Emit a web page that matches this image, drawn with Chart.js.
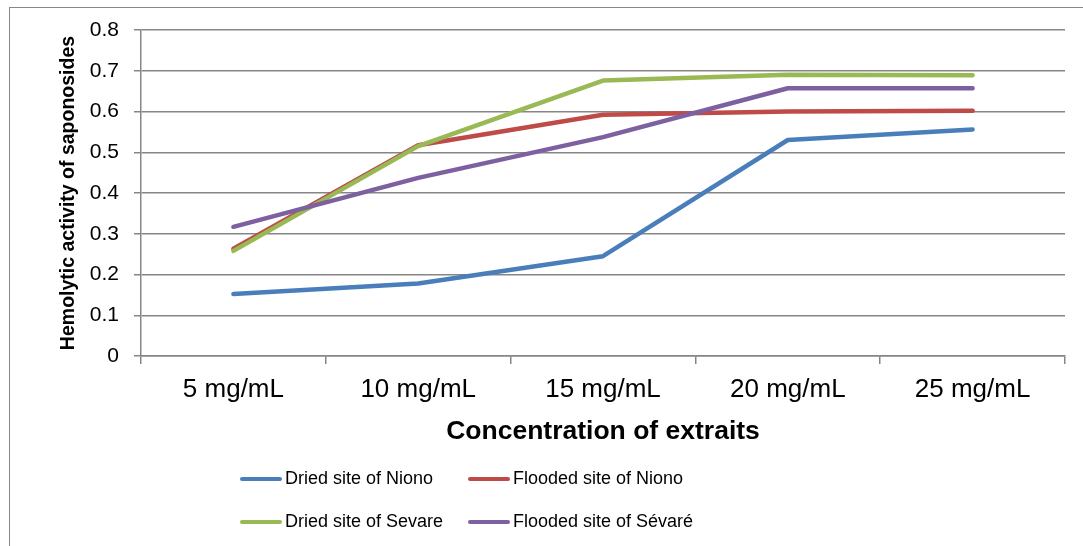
<!DOCTYPE html>
<html>
<head>
<meta charset="utf-8">
<script src="https://cdn.jsdelivr.net/npm/chart.js@4"></script>
<style>
  html, body { margin: 0; padding: 0; background: #fff; overflow: hidden; }
  #wrap { position: relative; width: 1083px; height: 546px; }
  #frame { position: absolute; left: 9px; top: 7px; width: 2000px; height: 2000px;
           border-left: 1px solid #888; border-top: 1px solid #888; }
  #c { position: absolute; left: 0; top: 0; }
  #legend { position: absolute; left: 240px; top: 457px; display: grid;
            grid-template-columns: 228px 228px; grid-auto-rows: 43px;
            font-family: "Liberation Sans", Arial, sans-serif; font-size: 18px; color: #000; }
  #legend .item { display: flex; align-items: center; }
  #legend .swatch { width: 42px; height: 4px; border-radius: 2px; margin-right: 3px; }
</style>
</head>
<body>
<div id="wrap">
  <div id="frame"></div>
  <canvas id="c" width="1083" height="546"></canvas>
  <div id="legend"></div>
</div>
<script>
// Concentrations (x categories)
const categories = ['5 mg/mL', '10 mg/mL', '15 mg/mL', '20 mg/mL', '25 mg/mL'];

// Hemolytic activity per site
const driedNiono = [0.152, 0.178, 0.245, 0.530, 0.556];
const floodedNiono = [0.263, 0.517, 0.592, 0.600, 0.602];
const driedSevare = [0.258, 0.515, 0.676, 0.690, 0.689];
const floodedSevare = [0.317, 0.437, 0.537, 0.657, 0.657];

const seriesNames = ['Dried site of Niono', 'Flooded site of Niono', 'Dried site of Sevare', 'Flooded site of Sévaré'];
const seriesColors = ['#4a7ebb', '#be4b48', '#98b954', '#7d60a0'];

const FONT = '"Liberation Sans", Arial, sans-serif';
const axisGrey = '#868686';

const seriesData = [driedNiono, floodedNiono, driedSevare, floodedSevare];

const datasets = seriesData.map((vals, i) => ({
    label: seriesNames[i],
    data: vals,
    borderColor: seriesColors[i],
    backgroundColor: seriesColors[i],
    borderWidth: 4.5,
    borderCapStyle: 'round',
    borderJoinStyle: 'round',
    pointRadius: 0,
    tension: 0,
    fill: false,
    order: seriesData.length - i // later series drawn on top, like Excel
}));

const ctx = document.getElementById('c').getContext('2d');
const chart = new Chart(ctx, {
    type: 'line',
    data: { labels: categories, datasets: datasets },
    options: {
        responsive: false,
        animation: false,
        devicePixelRatio: 1,
        layout: { padding: { top: 30, left: 0, right: 18, bottom: 0 } },
        plugins: {
            legend: { display: false },
            tooltip: { enabled: false }
        },
        scales: {
            x: {
                offset: true,
                afterFit: function(scale) { scale.height = 190; },
                grid: {
                    offset: true,
                    drawOnChartArea: false,
                    drawTicks: true,
                    tickLength: 8,
                    color: axisGrey,
                    lineWidth: 1.5
                },
                border: { color: axisGrey, width: 1.5 },
                ticks: {
                    color: '#000',
                    padding: 10,
                    maxRotation: 0,
                    font: { family: FONT, size: 26 }
                },
                title: {
                    display: true,
                    text: 'Concentration of extraits',
                    color: '#000',
                    padding: { top: 0, bottom: 98 },
                    font: { family: FONT, size: 26.5, weight: 'bold' }
                }
            },
            y: {
                min: 0,
                max: 0.8,
                afterFit: function(scale) { scale.width = 141; },
                grid: {
                    color: axisGrey,
                    lineWidth: 1.5,
                    drawTicks: true,
                    tickLength: 7
                },
                border: { color: axisGrey, width: 1.5 },
                ticks: {
                    stepSize: 0.1,
                    color: '#000',
                    padding: 15,
                    font: { family: FONT, size: 21 },
                    callback: function(value) {
                        return value === 0 ? '0' : value.toFixed(1);
                    }
                },
                title: {
                    display: true,
                    text: 'Hemolytic activity of saponosides',
                    color: '#000',
                    padding: { top: 57, bottom: 0 },
                    font: { family: FONT, size: 19.5, weight: 'bold' }
                }
            }
        }
    }
});

// Legend built from the datasets, two per row like the original
const legendEl = document.getElementById('legend');
chart.data.datasets.forEach(ds => {
    const item = document.createElement('div');
    item.className = 'item';
    const sw = document.createElement('span');
    sw.className = 'swatch';
    sw.style.background = ds.borderColor;
    const txt = document.createElement('span');
    txt.textContent = ds.label;
    item.appendChild(sw);
    item.appendChild(txt);
    legendEl.appendChild(item);
});
</script>
</body>
</html>
